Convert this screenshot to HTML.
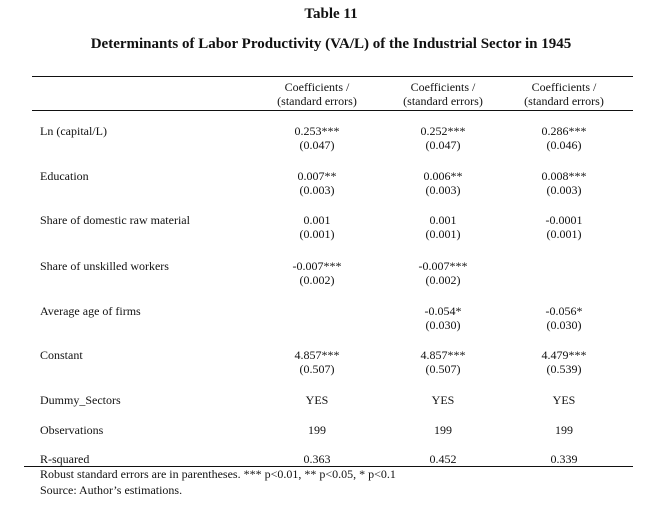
<!DOCTYPE html>
<html><head><style>
body{margin:0;background:#fff;width:662px;height:507px;position:relative;font-family:"Liberation Serif",serif;color:#111;overflow:hidden}
.t{position:absolute;white-space:nowrap;font-size:12px;line-height:14px}
.c{transform:translateX(-50%);text-align:center}
.b{font-weight:bold;font-size:15px}
.ln{position:absolute;height:1px;background:#111}
</style></head><body>
<div class="t b c" style="left:331px;top:7px">Table 11</div>
<div class="t b c" style="left:331px;top:37px">Determinants of Labor Productivity (VA/L) of the Industrial Sector in 1945</div>
<div class="ln" style="left:32px;width:601px;top:76px"></div>
<div class="ln" style="left:32px;width:601px;top:110px"></div>
<div class="ln" style="left:24px;width:609px;top:466px"></div>

<div class="t c" style="left:317px;top:80px">Coefficients /<br>(standard errors)</div>
<div class="t c" style="left:443px;top:80px">Coefficients /<br>(standard errors)</div>
<div class="t c" style="left:564px;top:80px">Coefficients /<br>(standard errors)</div>

<div class="t" style="left:40px;top:124px">Ln (capital/L)</div>
<div class="t c" style="left:317px;top:124px">0.253***<br>(0.047)</div>
<div class="t c" style="left:443px;top:124px">0.252***<br>(0.047)</div>
<div class="t c" style="left:564px;top:124px">0.286***<br>(0.046)</div>

<div class="t" style="left:40px;top:169px">Education</div>
<div class="t c" style="left:317px;top:169px">0.007**<br>(0.003)</div>
<div class="t c" style="left:443px;top:169px">0.006**<br>(0.003)</div>
<div class="t c" style="left:564px;top:169px">0.008***<br>(0.003)</div>

<div class="t" style="left:40px;top:213px">Share of domestic raw material</div>
<div class="t c" style="left:317px;top:213px">0.001<br>(0.001)</div>
<div class="t c" style="left:443px;top:213px">0.001<br>(0.001)</div>
<div class="t c" style="left:564px;top:213px">-0.0001<br>(0.001)</div>

<div class="t" style="left:40px;top:259px">Share of unskilled workers</div>
<div class="t c" style="left:317px;top:259px">-0.007***<br>(0.002)</div>
<div class="t c" style="left:443px;top:259px">-0.007***<br>(0.002)</div>

<div class="t" style="left:40px;top:304px">Average age of firms</div>
<div class="t c" style="left:443px;top:304px">-0.054*<br>(0.030)</div>
<div class="t c" style="left:564px;top:304px">-0.056*<br>(0.030)</div>

<div class="t" style="left:40px;top:348px">Constant</div>
<div class="t c" style="left:317px;top:348px">4.857***<br>(0.507)</div>
<div class="t c" style="left:443px;top:348px">4.857***<br>(0.507)</div>
<div class="t c" style="left:564px;top:348px">4.479***<br>(0.539)</div>

<div class="t" style="left:40px;top:393px">Dummy_Sectors</div>
<div class="t c" style="left:317px;top:393px">YES</div>
<div class="t c" style="left:443px;top:393px">YES</div>
<div class="t c" style="left:564px;top:393px">YES</div>

<div class="t" style="left:40px;top:423px">Observations</div>
<div class="t c" style="left:317px;top:423px">199</div>
<div class="t c" style="left:443px;top:423px">199</div>
<div class="t c" style="left:564px;top:423px">199</div>

<div class="t" style="left:40px;top:452px">R-squared</div>
<div class="t c" style="left:317px;top:452px">0.363</div>
<div class="t c" style="left:443px;top:452px">0.452</div>
<div class="t c" style="left:564px;top:452px">0.339</div>

<div class="t" style="left:40px;top:467px">Robust standard errors are in parentheses. *** p&lt;0.01, ** p&lt;0.05, * p&lt;0.1</div>
<div class="t" style="left:40px;top:483px">Source: Author’s estimations.</div>
</body></html>
